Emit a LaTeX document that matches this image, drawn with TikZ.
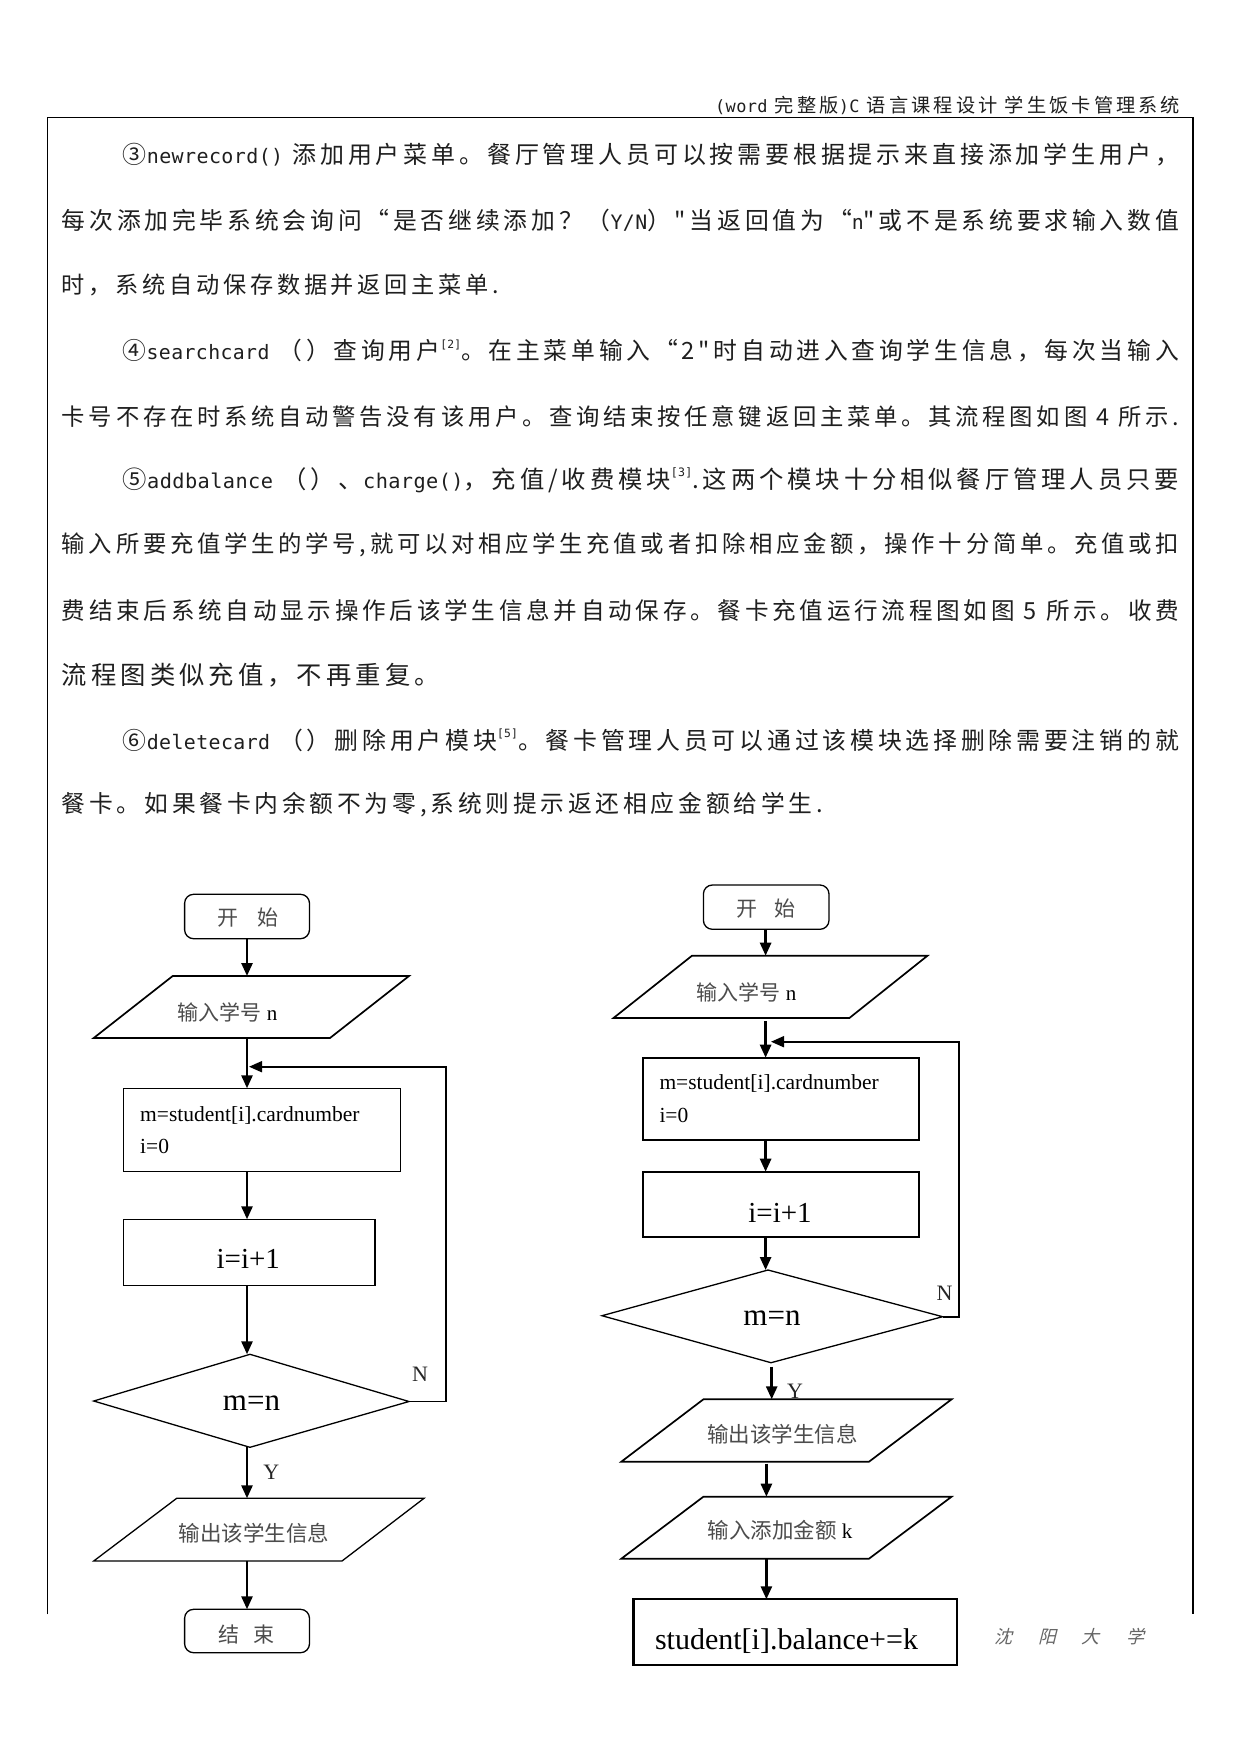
\documentclass[tikz,border=0pt]{standalone}
\usepackage{fontspec}
\usepackage{graphicx}
\setmainfont{Liberation Serif}
\newfontfamily\cjk{Noto Sans CJK SC}
\newfontfamily\bodyf[LetterSpace=16]{Noto Sans CJK SC}
\newfontfamily\bodylat[LetterSpace=2]{DejaVu Sans Mono}
\newfontfamily\cjkit[FakeSlant=0.25]{Noto Sans CJK SC}
\usetikzlibrary{arrows.meta}
\newcommand{\lt}[1]{{\fontsize{17.5}{21}\selectfont\bodylat #1}}
\newcommand{\sref}[1]{\raisebox{0.5em}{\fontsize{10}{11}\selectfont\bodylat[#1]}}
\newcommand{\gcj}[1]{{\color{black!70}\cjk #1}}
\begin{document}
\begin{tikzpicture}[x=1pt,y=-1pt,
  body/.style={inner sep=0pt, anchor=west, text=black!88, font=\fontsize{21}{25}\selectfont\bodyf},
  frame/.style={line width=1.5pt},
  flow/.style={line width=1.3pt},
  flowbold/.style={line width=1.7pt},
  arr/.style={line width=2.6pt, -{Triangle[length=13pt,width=11pt]}},
  looparr/.style={line width=1.8pt, -{Triangle[length=13pt,width=11pt]}},
  cj/.style={inner sep=0pt, font=\fontsize{21}{25}\selectfont},
  lat/.style={inner sep=0pt, anchor=west, font=\fontsize{21.5}{26}\selectfont},
  big/.style={inner sep=0pt, font=\fontsize{29}{34}\selectfont},
  mn/.style={inner sep=0pt, font=\fontsize{31}{36}\selectfont},
  bigger/.style={inner sep=0pt, font=\fontsize{30}{36}\selectfont},
  lbl/.style={inner sep=0pt, font=\fontsize{22}{26}\selectfont, text=black!85}]
\fill[white] (0,0) rectangle (1241,1754);
\useasboundingbox (0,0) rectangle (1241,1754);

% header and frame
\node[inner sep=0pt, anchor=west, text=black!88] (hdr) at (715,105)
  {\resizebox{465pt}{!}{\fontsize{17}{20}\selectfont\bodyf {\fontsize{15}{18}\selectfont\bodylat (word} 完整版{\fontsize{15}{18}\selectfont\bodylat )C} 语言课程设计 学生饭卡管理系统}};
\draw[frame] (47.5,1614.3) -- (47.5,117.3) -- (1192.8,117.3) -- (1192.8,1614.3);

% body text
\node[body] (l1) at (122.7,155) {\resizebox{1056pt}{!}{③\lt{newrecord()} 添加用户菜单。餐厅管理人员可以按需要根据提示来直接添加学生用户，}};
\node[body] (l2) at (61.7,220) {\resizebox{1117pt}{!}{每次添加完毕系统会询问“是否继续添加？（\lt{Y/N}）"当返回值为“\lt{n}"或不是系统要求输入数值}};
\node[body] (l3) at (61.7,285) {\resizebox{437pt}{!}{时，系统自动保存数据并返回主菜单.}};
\node[body] (l4) at (122.7,351) {\resizebox{1056pt}{!}{④\lt{searchcard} （）查询用户\sref{2}。在主菜单输入“2"时自动进入查询学生信息，每次当输入}};
\node[body] (l5) at (61.7,416.7) {\resizebox{1117pt}{!}{卡号不存在时系统自动警告没有该用户。查询结束按任意键返回主菜单。其流程图如图 4 所示.}};
\node[body] (l6) at (122.7,480) {\resizebox{1056pt}{!}{⑤\lt{addbalance} （）、\lt{charge()}，充值/收费模块\sref{3}.这两个模块十分相似餐厅管理人员只要}};
\node[body] (l7) at (61.7,545) {\resizebox{1117pt}{!}{输入所要充值学生的学号,就可以对相应学生充值或者扣除相应金额，操作十分简单。充值或扣}};
\node[body] (l8) at (61.7,610) {\resizebox{1117pt}{!}{费结束后系统自动显示操作后该学生信息并自动保存。餐卡充值运行流程图如图 5 所示。收费}};
\node[body] (l9) at (61.7,675) {\resizebox{378pt}{!}{流程图类似充值，不再重复。}};
\node[body] (l10) at (122.7,740) {\resizebox{1056pt}{!}{⑥\lt{deletecard} （）删除用户模块\sref{5}。餐卡管理人员可以通过该模块选择删除需要注销的就}};
\node[body] (l11) at (61.7,805) {\resizebox{761pt}{!}{餐卡。如果餐卡内余额不为零,系统则提示返还相应金额给学生.}};

% ===== left flowchart (figure 4) =====
\draw[flow, rounded corners=9pt] (184.6,894.3) rectangle (309.5,938.7);
\node[cj] (Ls) at (248,918) {\gcj{开\hspace{0.9em}始}};
\coordinate (Lsb) at (247,938.7);

\draw[flowbold] (172.7,976) -- (409,976) -- (330,1038) -- (93.7,1038) -- cycle;
\node[cj] (Lin) at (227.5,1012) {\gcj{输入学号} n};
\coordinate (Lint) at (247,976);
\coordinate (Linb) at (247,1038);

\draw[flow] (123.7,1088.3) rectangle (400.4,1171.7);
\node[lat] (Lm) at (140,1115) {m=student[i].cardnumber};
\node[lat] (Li0) at (140,1146.7) {i=0};
\coordinate (Lb1t) at (247,1088.3);
\coordinate (Lb1b) at (247,1171.7);

\draw[flow] (123.7,1219.3) rectangle (375,1285.7);
\node[big] (Linc) at (248.3,1259) {i=i+1};
\coordinate (Lb2t) at (247,1219.3);
\coordinate (Lb2b) at (247,1285.7);

\draw[flow] (250,1354.3) -- (409,1401.5) -- (250,1447.3) -- (93.7,1401) -- cycle;
\node[mn] (Ld) at (251.5,1403) {m=n};
\coordinate (Ldt) at (247,1354.3);
\coordinate (Ldr) at (409,1401.5);
\coordinate (Ldb) at (247,1447.3);
\coordinate (Lc1) at (445.8,1401.5);
\coordinate (Lc2) at (445.8,1066.7);
\coordinate (Lret) at (249,1066.7);
\node[lbl] (LN) at (420,1374) {N};
\node[lbl] (LY) at (271.3,1472.5) {Y};

\draw[flow] (176.7,1498.3) -- (424,1498.3) -- (342,1561) -- (93.7,1561) -- cycle;
\node[cj] (Lout) at (254,1533) {\gcj{\fontsize{21.5}{25}\selectfont 输出该学生信息}};
\coordinate (Loutt) at (247,1498.3);
\coordinate (Loutb) at (247,1561);

\draw[flow, rounded corners=9pt] (184.6,1609.3) rectangle (309.5,1652.7);
\node[cj] (Le) at (246.5,1634) {\gcj{结\hspace{0.65em}束}};
\coordinate (Let) at (247,1609.3);

\draw[arr] (Lsb) -- (Lint);
\draw[arr] (Linb) -- (Lb1t);
\draw[arr] (Lb1b) -- (Lb2t);
\draw[arr] (Lb2b) -- (Ldt);
\draw[looparr] (Ldr) -- (Lc1) -- (Lc2) -- (Lret);
\draw[arr] (Ldb) -- (Loutt);
\draw[arr] (Loutb) -- (Let);

% ===== right flowchart (figure 5) =====
\draw[flow, rounded corners=9pt] (703.4,885) rectangle (829,929.3);
\node[cj] (Rs) at (765.7,909) {\gcj{开\hspace{0.8em}始}};
\coordinate (Rsb) at (765.6,929.3);

\draw[flowbold] (692,955.7) -- (927.5,955.7) -- (849.4,1018) -- (613.5,1018) -- cycle;
\node[cj] (Rin) at (746.4,992) {\gcj{输入学号} n};
\coordinate (Rint) at (765.6,955.7);
\coordinate (Rinb) at (765.6,1021);

\draw[flowbold] (643,1057.7) rectangle (919.3,1140);
\node[lat] (Rm) at (659.3,1083.3) {m=student[i].cardnumber};
\node[lat] (Ri0) at (659.3,1115) {i=0};
\coordinate (Rb1t) at (765.6,1057.7);
\coordinate (Rb1b) at (765.6,1140);

\draw[flowbold] (643,1171.7) rectangle (919.3,1237);
\node[big] (Rinc) at (780,1213) {i=i+1};
\coordinate (Rb2t) at (765.6,1171.7);
\coordinate (Rb2b) at (765.6,1237);

\draw[flow] (768,1270) -- (942.6,1316.7) -- (771,1362.7) -- (602,1315.7) -- cycle;
\node[mn] (Rd) at (772,1318.3) {m=n};
\coordinate (Rdt) at (765.6,1270);
\coordinate (Rdr) at (942.6,1316.7);
\coordinate (Rdb) at (771.7,1366.7);
\coordinate (Rc1) at (959,1316.7);
\coordinate (Rc2) at (959,1041.7);
\coordinate (Rret) at (771,1041.7);
\node[lbl] (RN) at (944.5,1293.3) {N};
\node[lbl] (RY) at (795,1391.5) {Y};

\draw[flowbold] (703.4,1399.3) -- (951.6,1399.3) -- (869,1461.7) -- (621.3,1461.7) -- cycle;
\node[cj] (Rout) at (782.7,1434) {\gcj{\fontsize{21.5}{25}\selectfont 输出该学生信息}};
\coordinate (Routt) at (771.7,1399.3);
\coordinate (Routb) at (766.4,1463.7);

\draw[flowbold] (703.4,1496.7) -- (951.6,1496.7) -- (869,1558.7) -- (621.3,1558.7) -- cycle;
\node[cj] (Radd) at (780,1530.5) {\gcj{\fontsize{21.5}{25}\selectfont 输入添加金额} k};
\coordinate (Raddt) at (766.4,1496.7);
\coordinate (Raddb) at (766.4,1558.7);

\draw[line width=2.2pt] (633.5,1599.3) rectangle (957,1665.3);
\node[bigger] (Rbal) at (786.5,1641) {student[i].balance+=k};
\coordinate (Rbalt) at (766.4,1599.3);

\draw[arr] (Rsb) -- (Rint);
\draw[arr] (Rinb) -- (Rb1t);
\draw[arr] (Rb1b) -- (Rb2t);
\draw[arr] (Rb2b) -- (Rdt);
\draw[looparr] (Rdr) -- (Rc1) -- (Rc2) -- (Rret);
\draw[arr] (Rdb) -- (Routt);
\draw[arr] (Routb) -- (Raddt);
\draw[arr] (Raddb) -- (Rbalt);

% footer
\node[inner sep=0pt, text=black!60, font=\fontsize{18}{22}\selectfont\cjkit] (foot) at (1069,1636.7)
  {沈\hspace{26pt}阳\hspace{26pt}大\hspace{26pt}学};
\end{tikzpicture}
\end{document}
